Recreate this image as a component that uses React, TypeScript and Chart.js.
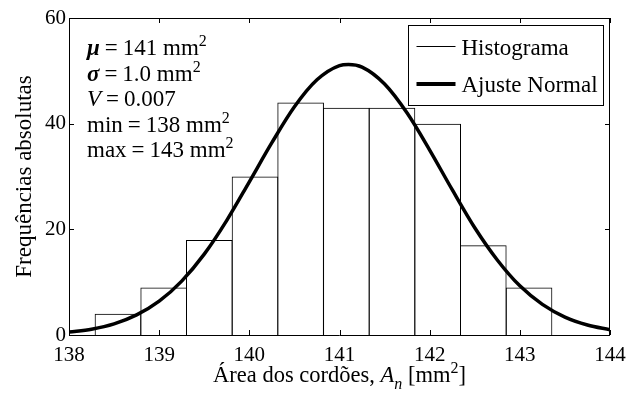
import { useEffect, useRef } from 'react';
import { Chart, registerables } from 'chart.js';

Chart.register(...registerables);

// Histogram bins (centres, mm²) and absolute frequencies
const binCenters = [138.543, 139.05, 139.556, 140.063, 140.569, 141.076, 141.582, 142.089, 142.595, 143.102];
const binCounts = [4, 9, 18, 30, 44, 43, 43, 40, 17, 9];

// Normal fit curve
const fitX = [138.0, 138.25, 138.5, 138.75, 139.0, 139.25, 139.5, 139.75, 140.0, 140.25, 140.5, 140.75, 141.0, 141.1, 141.25, 141.5, 141.75, 142.0, 142.25, 142.5, 142.75, 143.0, 143.25, 143.5, 143.75, 144.0];
const fitY = [0.55, 1.1, 2.1, 3.8, 6.4, 10.2, 15.3, 21.7, 29.0, 36.4, 43.2, 48.3, 51.0, 51.2, 50.7, 47.5, 42.0, 35.0, 27.5, 20.3, 14.2, 9.3, 5.8, 3.4, 1.9, 1.0];

const xTicks = [138, 139, 140, 141, 142, 143, 144];
const yTicks = [0, 20, 40, 60];

const legendLabels = ['Histograma', 'Ajuste Normal'];
const yTitle = 'Frequências absolutas';

type Seg = { t: string; style?: string; sup?: boolean; sub?: boolean; gap?: number };

const xTitleSegs: Seg[] = [
  { t: 'Área dos cordões, ' },
  { t: 'A', style: 'italic' },
  { t: 'n', style: 'italic', sub: true },
  { t: ' [mm' },
  { t: '2', sup: true },
  { t: ']' },
];

const EQ: Seg[] = [{ t: '', gap: 5 }, { t: '=' }, { t: '', gap: 5 }];

const statsLines: Seg[][] = [
  [{ t: 'μ', style: 'bold italic' }, ...EQ, { t: '141 mm' }, { t: '2', sup: true }],
  [{ t: 'σ', style: 'bold italic' }, ...EQ, { t: '1.0 mm' }, { t: '2', sup: true }],
  [{ t: 'V', style: 'italic' }, ...EQ, { t: '0.007' }],
  [{ t: 'min' }, ...EQ, { t: '138 mm' }, { t: '2', sup: true }],
  [{ t: 'max' }, ...EQ, { t: '143 mm' }, { t: '2', sup: true }],
];

const FONT = '"Liberation Serif", "Times New Roman", serif';

function drawSegs(ctx: CanvasRenderingContext2D, segs: Seg[], x: number, y: number, size: number, align: 'left' | 'center') {
  const parts = segs.map((s) => {
    const sz = s.sup || s.sub ? Math.round(size * 0.7) : size;
    const font = `${s.style ? s.style + ' ' : ''}${sz}px ${FONT}`;
    ctx.font = font;
    return { ...s, font, w: ctx.measureText(s.t).width + (s.gap ?? 0) };
  });
  const total = parts.reduce((a, p) => a + p.w, 0);
  let cx = align === 'center' ? x - total / 2 : x;
  ctx.textAlign = 'left';
  ctx.textBaseline = 'alphabetic';
  for (const p of parts) {
    ctx.font = p.font;
    const dy = p.sup ? -size * 0.38 : p.sub ? size * 0.32 : 0;
    if (p.t) ctx.fillText(p.t, cx, y + dy);
    cx += p.w;
  }
}

export default function App() {
  const ref = useRef<HTMLCanvasElement>(null);

  useEffect(() => {
    document.body.style.margin = '0';
    const canvas = ref.current!;

    const decor = {
      id: 'decor',
      afterDatasetsDraw(chart: any) {
        const { ctx, chartArea: a, scales } = chart;
        const xs = scales.x;
        const ys = scales.y;
        ctx.save();
        ctx.strokeStyle = '#000';
        ctx.lineWidth = 1;
        ctx.beginPath();
        ctx.rect(Math.round(a.left) + 0.5, Math.round(a.top) + 0.5, Math.round(a.right - a.left) - 1, Math.round(a.bottom - a.top));
        ctx.stroke();
        const tl = 5;
        ctx.beginPath();
        for (const v of xTicks) {
          const px = Math.round(xs.getPixelForValue(v)) + 0.5;
          ctx.moveTo(px, a.bottom);
          ctx.lineTo(px, a.bottom - tl);
          ctx.moveTo(px, a.top);
          ctx.lineTo(px, a.top + tl);
        }
        for (const v of yTicks) {
          const py = Math.round(ys.getPixelForValue(v)) + 0.5;
          ctx.moveTo(a.left, py);
          ctx.lineTo(a.left + tl, py);
          ctx.moveTo(a.right, py);
          ctx.lineTo(a.right - tl, py);
        }
        ctx.stroke();
        ctx.restore();
      },
      afterDraw(chart: any) {
        const { ctx, chartArea: a } = chart;
        ctx.save();
        ctx.fillStyle = '#000';

        // stats text
        const sx = a.left + 18;
        statsLines.forEach((line, i) => {
          drawSegs(ctx, line, sx, a.top + 37 + i * 25.5, 23, 'left');
        });

        // legend box
        const bw = 195;
        const bh = 80;
        const bx = Math.round(a.right - 7 - bw) + 0.5;
        const by = Math.round(a.top + 7) + 0.5;
        ctx.fillStyle = '#fff';
        ctx.fillRect(bx, by, bw, bh);
        ctx.strokeStyle = '#000';
        ctx.lineWidth = 1;
        ctx.strokeRect(bx, by, bw, bh);
        const rows = [by + 21, by + 58.5];
        const widths = [1, 4];
        legendLabels.forEach((lab, i) => {
          ctx.strokeStyle = '#000';
          ctx.lineWidth = widths[i];
          ctx.beginPath();
          ctx.moveTo(bx + 8, rows[i]);
          ctx.lineTo(bx + 47, rows[i]);
          ctx.stroke();
          ctx.fillStyle = '#000';
          drawSegs(ctx, [{ t: lab }], bx + 53, rows[i] + 8, 23, 'left');
        });

        // axis titles
        ctx.fillStyle = '#000';
        drawSegs(ctx, xTitleSegs, (a.left + a.right) / 2, 382, 22.5, 'center');
        ctx.save();
        ctx.translate(31, (a.top + a.bottom) / 2);
        ctx.rotate(-Math.PI / 2);
        drawSegs(ctx, [{ t: yTitle }], 0, 0, 23, 'center');
        ctx.restore();

        ctx.restore();
      },
    };

    const chart = new Chart(canvas, {
      type: 'bar',
      data: {
        datasets: [
          {
            type: 'bar',
            label: legendLabels[0],
            data: binCenters.map((x, i) => ({ x, y: binCounts[i] })),
            backgroundColor: 'rgba(255,255,255,0)',
            borderColor: '#000',
            borderWidth: 1,
            borderSkipped: 'start',
            barPercentage: 1.022,
            categoryPercentage: 1,
            order: 2,
          } as any,
          {
            type: 'line',
            label: legendLabels[1],
            data: fitX.map((x, i) => ({ x, y: fitY[i] })),
            borderColor: '#000',
            borderWidth: 3.5,
            pointRadius: 0,
            cubicInterpolationMode: 'monotone',
            fill: false,
            order: 1,
          } as any,
        ],
      },
      options: {
        responsive: false,
        animation: false,
        events: [],
        layout: { padding: { left: 0, right: 16, top: 18, bottom: 0 } },
        plugins: { legend: { display: false }, tooltip: { enabled: false } },
        scales: {
          x: {
            type: 'linear',
            min: 138,
            max: 144,
            offset: false,
            ticks: { stepSize: 1, autoSkip: false, maxRotation: 0, color: '#000', padding: 8, font: { family: FONT, size: 21 } },
            grid: { display: false, drawTicks: false },
            border: { display: false },
            afterFit(s: any) { s.height = 61; s.paddingLeft = 0; s.paddingRight = 0; },
          },
          y: {
            min: 0,
            max: 60,
            ticks: { stepSize: 20, color: '#000', padding: 3, font: { family: FONT, size: 21 } },
            grid: { display: false, drawTicks: false },
            border: { display: false },
            afterFit(s: any) { s.width = 69; s.paddingTop = 0; s.paddingBottom = 0; },
          },
        },
      } as any,
      plugins: [decor],
    });

    return () => chart.destroy();
  }, []);

  return <canvas ref={ref} width={626} height={396} style={{ display: 'block' }} />;
}
